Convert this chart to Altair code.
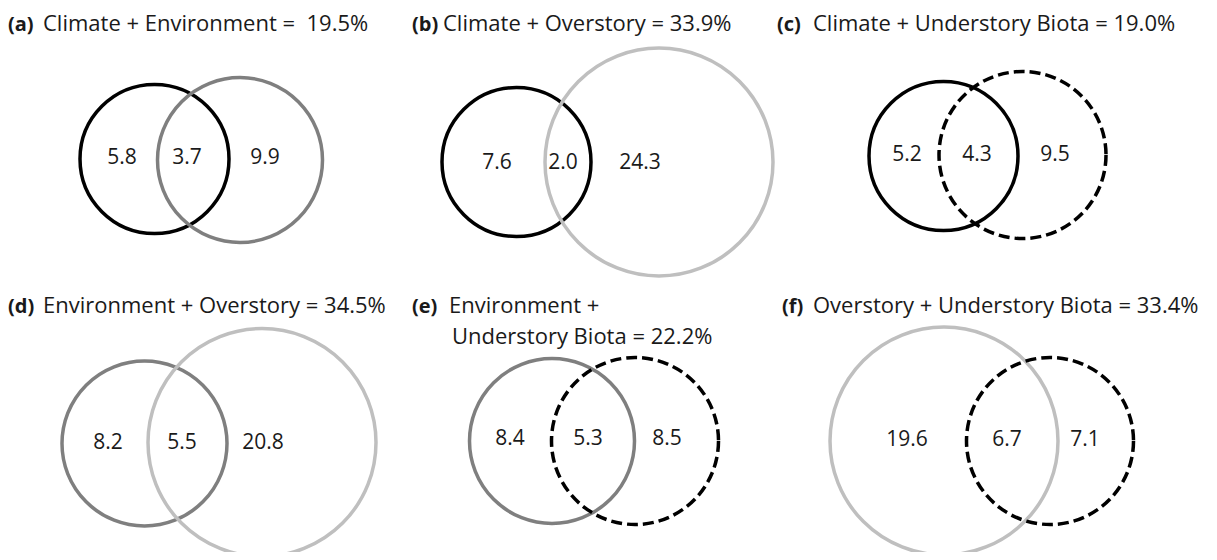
import altair as alt
import pandas as pd

# ---- data ----
panel_letters = ["(a)", "(b)", "(c)", "(d)", "(e)", "(f)"]
panel_titles = [
    ["Climate + Environment =\u00a0 19.5%"],
    ["Climate + Overstory = 33.9%"],
    ["Climate + Understory Biota = 19.0%"],
    ["Environment + Overstory = 34.5%"],
    ["Environment +", "Understory Biota = 22.2%"],
    ["Overstory + Understory Biota = 33.4%"],
]
left_set = ["Climate", "Climate", "Climate", "Environment", "Environment", "Overstory"]
right_set = ["Environment", "Overstory", "Understory Biota", "Overstory", "Understory Biota", "Understory Biota"]
left_only = [5.8, 7.6, 5.2, 8.2, 8.4, 19.6]
shared = [3.7, 2.0, 4.3, 5.5, 5.3, 6.7]
right_only = [9.9, 24.3, 9.5, 20.8, 8.5, 7.1]

# ---- styles per set ----
set_style = {
    "Climate": {"r": 74.5, "color": "#000000", "dashed": False},
    "Environment": {"r": 82.5, "color": "#7f7f7f", "dashed": False},
    "Overstory": {"r": 114.0, "color": "#bfbfbf", "dashed": False},
    "Understory Biota": {"r": 83.5, "color": "#000000", "dashed": True},
}

# ---- layout (pixel coordinates of the page) ----
left_centers = [(154.5, 159), (516.5, 162), (943.5, 156), (144.5, 443.5), (552, 441), (944, 441)]
right_centers = [(240, 160), (659, 162), (1022.5, 155), (262, 442.5), (635, 441), (1050, 441)]
label_x = [(122, 187, 265), (497, 563, 640), (907, 977, 1055), (108, 182, 263), (510, 588, 667), (907, 1007, 1085)]
label_y = [158, 163, 155, 443, 439, 440]
letter_x = [8, 412, 777, 8, 412, 782]
title_x = [43, 443, 813, 43, 449, 813]
title_base = [31, 31, 31, 313, 313, 313]
line_gap = 31

circle_rows = []
for i in range(6):
    for name, (cx, cy) in ((left_set[i], left_centers[i]), (right_set[i], right_centers[i])):
        st = set_style[name]
        circle_rows.append({"cx": cx, "cy": cy, "size": 4 * st["r"] ** 2,
                            "color": st["color"], "dashed": st["dashed"], "set": name})
circles = pd.DataFrame(circle_rows)

label_rows = []
for i in range(6):
    for j, v in enumerate((left_only[i], shared[i], right_only[i])):
        label_rows.append({"x": label_x[i][j], "y": label_y[i], "t": f"{v:.1f}"})
labels = pd.DataFrame(label_rows)

letter_rows = [{"x": letter_x[i], "y": title_base[i], "t": panel_letters[i]} for i in range(6)]
letters = pd.DataFrame(letter_rows)

title_rows = []
for i in range(6):
    for k, line in enumerate(panel_titles[i]):
        title_rows.append({"x": title_x[i] + (3 if k > 0 else 0), "y": title_base[i] + k * line_gap, "t": line})
titles = pd.DataFrame(title_rows)

FONT = "Open Sans"
xs = alt.Scale(domain=[8, 1209], nice=False, zero=False)
ys = alt.Scale(domain=[8, 552], nice=False, zero=False, reverse=True)
X = lambda f: alt.X(f, type="quantitative", scale=xs, axis=None)
Y = lambda f: alt.Y(f, type="quantitative", scale=ys, axis=None)

solid = alt.Chart(circles).transform_filter("!datum.dashed").mark_point(
    shape="circle", filled=False, opacity=1, strokeWidth=3.5
).encode(
    x=X("cx"), y=Y("cy"),
    size=alt.Size("size:Q", scale=None, legend=None),
    stroke=alt.Stroke("color:N", scale=None, legend=None),
)
dashed = alt.Chart(circles).transform_filter("datum.dashed").mark_point(
    shape="circle", filled=False, opacity=1, strokeWidth=3.5, strokeDash=[11, 5]
).encode(
    x=X("cx"), y=Y("cy"),
    size=alt.Size("size:Q", scale=None, legend=None),
    stroke=alt.Stroke("color:N", scale=None, legend=None),
)
num_text = alt.Chart(labels).mark_text(
    font=FONT, fontSize=21, color="#1a1a1a", align="center", baseline="middle"
).encode(x=X("x"), y=Y("y"), text="t:N")
letter_text = alt.Chart(letters).mark_text(
    font=FONT, fontSize=20, fontWeight="bold", color="#1a1a1a", align="left", baseline="alphabetic"
).encode(x=X("x"), y=Y("y"), text="t:N")
title_text = alt.Chart(titles).mark_text(
    font=FONT, fontSize=22, color="#1a1a1a", align="left", baseline="alphabetic"
).encode(x=X("x"), y=Y("y"), text="t:N")

chart = alt.layer(solid, dashed, num_text, letter_text, title_text).properties(
    width=1201, height=544, padding=0, autosize=alt.AutoSizeParams(type="none"),
    background="white"
).configure_view(stroke=None)

chart.save("out.html", embed_options={"renderer": "svg", "actions": False})
